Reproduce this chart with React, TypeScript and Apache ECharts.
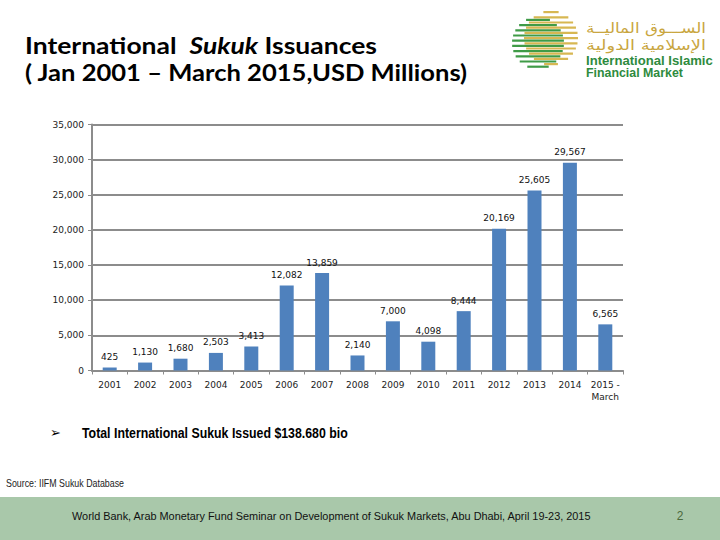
import React, { useEffect, useRef } from "react";
import * as echarts from "echarts";

const categories = ["2001", "2002", "2003", "2004", "2005", "2006", "2007", "2008", "2009", "2010", "2011", "2012", "2013", "2014", "2015 -\nMarch"];
const issuance = [425, 1130, 1680, 2503, 3413, 12082, 13859, 2140, 7000, 4098, 8444, 20169, 25605, 29567, 6565];
const yMax = 35000;
const yStep = 5000;

const titleLine1a = "International  ";
const titleLine1b = "Sukuk";
const titleLine1c = " Issuances";
const titleLine2 = "( Jan 2001 \u2013 March 2015,USD Millions)";
const bulletText = "Total International Sukuk Issued $138.680 bio";
const sourceText = "Source: IIFM Sukuk Database";
const footerText = "World Bank, Arab Monetary Fund Seminar on Development of Sukuk Markets, Abu Dhabi, April 19-23, 2015";
const pageNo = "2";
const arabic1 = "\u0627\u0644\u0633\u0640\u0640\u0640\u0648\u0642 \u0627\u0644\u0645\u0627\u0644\u064a\u0640\u0640\u0629";
const arabic2 = "\u0627\u0644\u0625\u0633\u0644\u0627\u0645\u064a\u0629 \u0627\u0644\u062f\u0648\u0644\u064a\u0629";
const logoEn1 = "International Islamic";
const logoEn2 = "Financial Market";

function fmt(v: number) {
  return v.toLocaleString("en-US");
}

let ctx: CanvasRenderingContext2D | null = null;
function measure(text: string, font: string) {
  if (!ctx) ctx = document.createElement("canvas").getContext("2d");
  if (!ctx) return 1;
  ctx.font = font;
  return ctx.measureText(text).width;
}

function fitText(text: string, font: string, x: number, y: number, width: number, fill: string, extra: any = {}) {
  const w = measure(text, font);
  return {
    type: "text",
    x,
    y,
    scaleX: width / w,
    style: { text, font, fill, align: "left", verticalAlign: "middle" },
    ...extra,
  };
}

function logoStripes() {
  const els: any[] = [];
  const circles = [
    { cx: 551, cy: 38, r: 27, fill: "#d7b752" },
    { cx: 538, cy: 43, r: 26, fill: "#3f9b47" },
  ];
  for (let i = 0; i < 23; i++) {
    const y = 11 + i * 2.6;
    const c = circles[i % 2];
    const dy = y + 1.1 - c.cy;
    if (Math.abs(dy) >= c.r) continue;
    const hw = Math.sqrt(c.r * c.r - dy * dy);
    els.push({
      type: "rect",
      shape: { x: c.cx - hw, y, width: hw * 2, height: 2.2 },
      style: { fill: c.fill },
      z: 10,
    });
  }
  return els;
}

export default function App() {
  const ref = useRef<HTMLDivElement>(null);
  useEffect(() => {
    if (!ref.current) return;
    const chart = echarts.init(ref.current, undefined, { renderer: "svg" });
    const tFont = "bold 23px Lato";
    const tItal = "italic bold 23px Lato";
    const wA = measure(titleLine1a, tFont);
    const wB = measure(titleLine1b, tItal);
    const wC = measure(titleLine1c, tFont);
    const w2 = measure(titleLine2, tFont);
    const s1 = 352 / (wA + wB + wC);
    const s2 = 443 / w2;
    const arFont = "14px 'DejaVu Sans'";
    const sAr1 = 120 / measure(arabic1, arFont);
    const sAr2 = 120 / measure(arabic2, arFont);
    chart.setOption({
      animation: false,
      backgroundColor: "#ffffff",
      grid: { left: 92, right: 97, top: 124.5, bottom: 169.5, containLabel: false },
      xAxis: {
        type: "category",
        data: categories,
        axisLine: { lineStyle: { color: "#8c8c8c", width: 2 } },
        axisTick: { show: true, length: 4, lineStyle: { color: "#8c8c8c" } },
        axisLabel: { color: "#222", fontSize: 9, fontFamily: "DejaVu Sans", margin: 8, interval: 0, lineHeight: 12 },
      },
      yAxis: {
        type: "value",
        min: 0,
        max: yMax,
        interval: yStep,
        axisLine: { show: true, lineStyle: { color: "#8c8c8c", width: 2 } },
        axisTick: { show: true, length: 4, lineStyle: { color: "#8c8c8c" } },
        splitLine: { lineStyle: { color: "#8c8c8c", width: 2 } },
        axisLabel: { color: "#222", fontSize: 9, fontFamily: "DejaVu Sans", margin: 8, formatter: (v: number) => fmt(v) },
      },
      series: [
        {
          type: "bar",
          data: issuance,
          barWidth: 14,
          itemStyle: { color: "#4f81bd" },
          label: {
            show: true,
            position: "top",
            distance: 6,
            color: "#111",
            fontSize: 9,
            fontFamily: "DejaVu Sans",
            formatter: (p: any) => fmt(p.value),
          },
        },
      ],
      graphic: [
        {
          type: "group",
          x: 25,
          y: 45,
          scaleX: s1,
          children: [
            { type: "text", x: 0, y: 0, style: { text: titleLine1a, font: tFont, fill: "#000", align: "left", verticalAlign: "middle" } },
            { type: "text", x: wA, y: 0, style: { text: titleLine1b, font: tItal, fill: "#000", align: "left", verticalAlign: "middle" } },
            { type: "text", x: wA + wB, y: 0, style: { text: titleLine1c, font: tFont, fill: "#000", align: "left", verticalAlign: "middle" } },
          ],
        },
        {
          type: "text",
          x: 25,
          y: 72,
          scaleX: s2,
          style: { text: titleLine2, fill: "#000", font: tFont, align: "left", verticalAlign: "middle" },
        },
        ...logoStripes(),
        {
          type: "text",
          x: 706,
          y: 28,
          scaleX: sAr1,
          style: { text: arabic1, fill: "#c9a640", font: arFont, align: "right", verticalAlign: "middle" },
        },
        {
          type: "text",
          x: 706,
          y: 45,
          scaleX: sAr2,
          style: { text: arabic2, fill: "#c9a640", font: arFont, align: "right", verticalAlign: "middle" },
        },
        fitText(logoEn1, "bold 13px 'Liberation Sans'", 586, 61, 127, "#2e8b3e"),
        fitText(logoEn2, "bold 13px 'Liberation Sans'", 586, 73, 97, "#2e8b3e"),
        {
          type: "text",
          x: 50,
          y: 432,
          style: { text: "\u27a2", fill: "#000", font: "13px 'DejaVu Sans'", align: "left", verticalAlign: "middle" },
        },
        fitText(bulletText, "bold 14px 'Liberation Sans'", 82, 433, 266, "#000"),
        fitText(sourceText, "10px 'Liberation Sans'", 6, 483, 118, "#222"),
        {
          type: "rect",
          shape: { x: 0, y: 497, width: 720, height: 43 },
          style: { fill: "#a9c8aa" },
          z: 1,
        },
        fitText(footerText, "11px 'Liberation Sans'", 72, 516, 521, "#111", { z: 2 }),
        {
          type: "text",
          x: 680,
          y: 516,
          style: { text: pageNo, fill: "#4b6a3c", font: "12px 'Liberation Sans'", align: "center", verticalAlign: "middle" },
          z: 2,
        },
      ],
    });
    return () => chart.dispose();
  }, []);
  return <div ref={ref} style={{ position: "fixed", left: 0, top: 0, width: 720, height: 540 }} />;
}
